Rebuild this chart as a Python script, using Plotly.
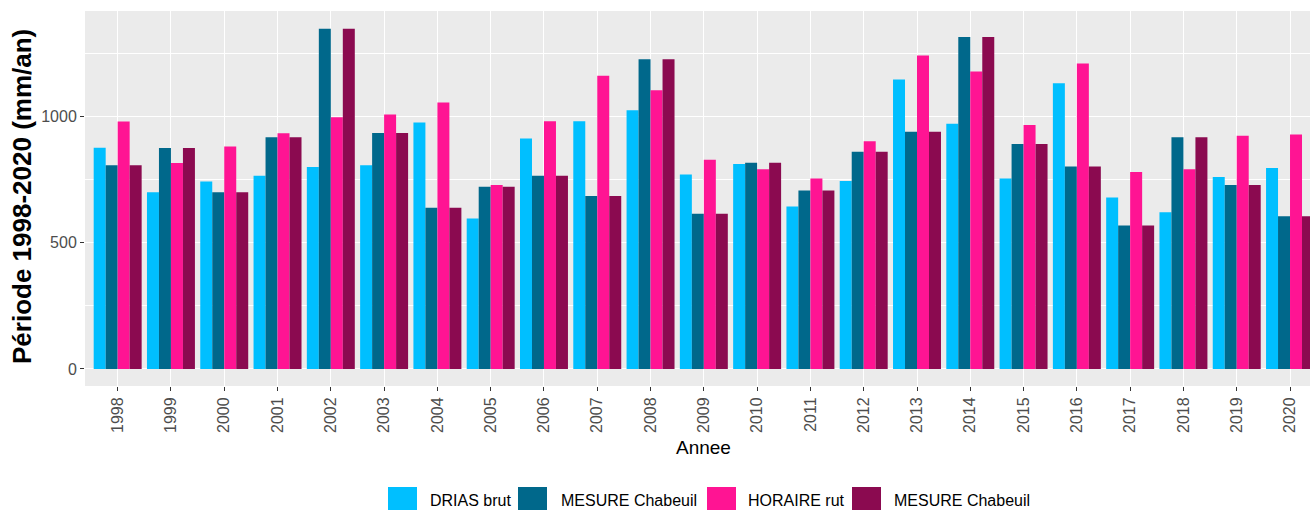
import plotly.graph_objects as go

years = [str(y) for y in range(1998, 2021)]
series_names = ["DRIAS brut", "MESURE Chabeuil", "HORAIRE rut", "MESURE Chabeuil"]
drias_brut = [876, 700, 742, 765, 800, 807, 976, 596, 913, 981, 1024, 770, 812, 643, 744, 1146, 971, 754, 1131, 679, 621, 760, 796]
mesure_chabeuil = [807, 875, 700, 918, 1347, 934, 638, 722, 765, 685, 1226, 615, 817, 707, 860, 939, 1315, 891, 802, 568, 918, 728, 605]
horaire_rut = [980, 816, 881, 933, 997, 1008, 1055, 728, 981, 1161, 1104, 828, 791, 754, 902, 1241, 1178, 966, 1210, 780, 791, 923, 928]
mesure_chabeuil_2 = [807, 875, 700, 918, 1347, 934, 638, 722, 765, 685, 1226, 615, 817, 707, 860, 939, 1315, 891, 802, 568, 918, 728, 605]
colors = ["#00BFFF", "#00688B", "#FF1493", "#8B0A50"]

W, H = 1310, 510
ML, MR, MT, MB = 85, 0, 11, 124
PW, PH = W - ML - MR, H - MT - MB


def px_x(px):
    return (px - ML) / PW


def px_y(py):
    return (H - MB - py) / PH


fig = go.Figure()
for name, vals, col in zip(series_names, [drias_brut, mesure_chabeuil, horaire_rut, mesure_chabeuil_2], colors):
    fig.add_trace(go.Bar(x=years, y=vals, name=name, marker=dict(color=col, line=dict(width=0)), showlegend=False))

font = "Liberation Sans, Arial, sans-serif"
fig.update_layout(
    width=W, height=H,
    margin=dict(l=ML, r=MR, t=MT, b=MB, pad=0),
    barmode="group", bargap=0.1, bargroupgap=0,
    plot_bgcolor="#EBEBEB", paper_bgcolor="white",
    font=dict(family=font, size=16, color="#4D4D4D"),
    showlegend=False,
)
fig.update_xaxes(
    type="category", range=[-0.613, 22.375], showgrid=True, gridcolor="white", gridwidth=1.1,
    ticks="outside", ticklen=4, tickwidth=1.1, tickcolor="#333333", tickangle=-90,
    tickfont=dict(family=font, size=16, color="#4D4D4D"), zeroline=False, showline=False,
)
fig.update_yaxes(
    range=[-67.5, 1417.5], tickvals=[0, 500, 1000], showgrid=True, gridcolor="white", gridwidth=1.1,
    minor=dict(tickvals=[250, 750, 1250], showgrid=True, gridcolor="white", gridwidth=0.55, ticks=""),
    ticks="outside", ticklen=4, tickwidth=1.1, tickcolor="#333333",
    tickfont=dict(family=font, size=16, color="#4D4D4D"), zeroline=False, showline=False,
)

ann = [
    dict(text="Annee", x=px_x(703), y=px_y(447), xref="paper", yref="paper", showarrow=False,
         xanchor="center", yanchor="middle", font=dict(family=font, size=19, color="black")),
    dict(text="<b>Période 1998-2020 (mm/an)</b>", x=px_x(22), y=px_y(197), xref="paper", yref="paper",
         showarrow=False, textangle=-90, xanchor="center", yanchor="middle",
         font=dict(family=font, size=26, color="black")),
]
key_x = [388, 518, 707, 852]
text_x = [428, 559, 746, 892]
shapes = []
for kx, tx, name, col in zip(key_x, text_x, series_names, colors):
    shapes.append(dict(type="rect", xref="paper", yref="paper", x0=px_x(kx), x1=px_x(kx + 29),
                       y0=px_y(487), y1=px_y(516), fillcolor=col, line=dict(width=0)))
    ann.append(dict(text=name, x=px_x(tx), y=px_y(500), xref="paper", yref="paper", showarrow=False,
                    xanchor="left", yanchor="middle", font=dict(family=font, size=16, color="black")))
fig.update_layout(annotations=ann, shapes=shapes)

fig.write_html("out.html", config={"displayModeBar": False})

# remove the browser's default 8px page margin so the figure sits at the window's corner
with open("out.html", "r", encoding="utf-8") as f:
    html = f.read()
html = html.replace("<head>", "<head><style>html,body{margin:0;padding:0;overflow:hidden}</style>", 1)
with open("out.html", "w", encoding="utf-8") as f:
    f.write(html)
